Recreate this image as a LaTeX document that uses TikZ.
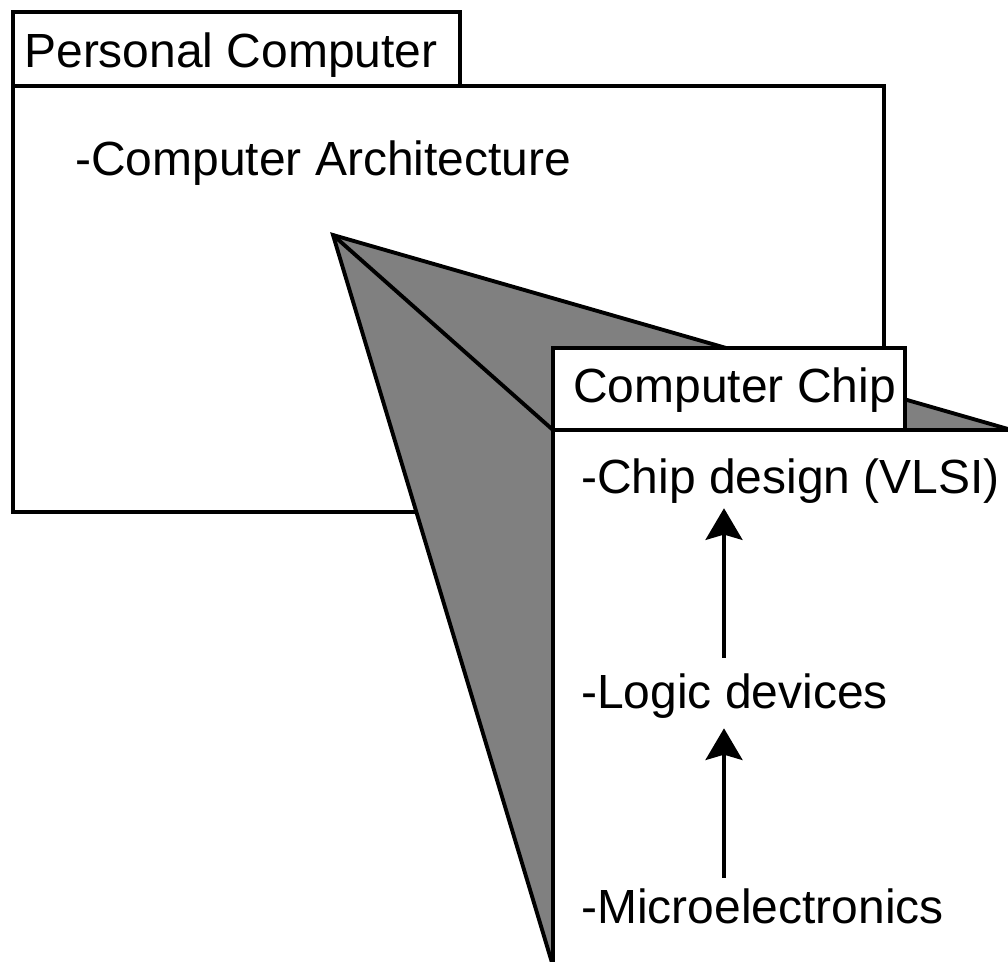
\documentclass[tikz,border=0pt]{standalone}
\usepackage{fontspec}
\setmainfont{Liberation Sans}
\usetikzlibrary{arrows.meta}
\definecolor{Wedge}{HTML}{808080}

\tikzset{
  frame/.style={draw,fill=white,line width=2.2pt},
  lbl/.style={anchor=base west,inner sep=0pt,font=\fontsize{27.3}{32}\selectfont},
  flow/.style={line width=2.2pt,-{Stealth[length=18pt,width=21pt,inset=3pt]}}
}

\begin{document}
\begin{tikzpicture}[x=0.02cm,y=-0.02cm]
  \useasboundingbox (0,0) rectangle (1008,961);
  \clip (0,0) rectangle (1008,961);

  % outer level
  \draw[frame] (13,12) rectangle (460,86);
  \draw[frame] (13,86) rectangle (884,512);
  \node[lbl] (pc) at (24,67) {Personal Computer};
  \node[lbl] (arch) at (75,175) {-Computer Architecture};

  % wedge opening onto the inner level
  \coordinate (apex) at (333,235);
  \coordinate (chipnw) at (553,430);
  \draw[line width=2.2pt,fill=Wedge] (apex) -- (1015,431) -- (553,966) -- cycle;
  \draw[line width=2.2pt] (apex) -- (chipnw);

  % inner level
  \draw[frame] (553,348) rectangle (905,430);
  \draw[frame] (chipnw) rectangle (1040,1000);
  \node[lbl] (chip) at (573,402) {Computer Chip};
  \node[lbl] (vlsi) at (581,493) {-Chip design (VLSI)};
  \node[lbl] (logic) at (581,708) {-Logic devices};
  \node[lbl] (micro) at (581,923) {-Microelectronics};

  \coordinate (ax) at (724,0);
  \draw[flow,shorten <=8.5pt,shorten >=2.8pt] (logic.north -| ax) -- (vlsi.south -| ax);
  \draw[flow,shorten <=5.7pt,shorten >=5.7pt] (micro.north -| ax) -- (logic.south -| ax);
\end{tikzpicture}
\end{document}
